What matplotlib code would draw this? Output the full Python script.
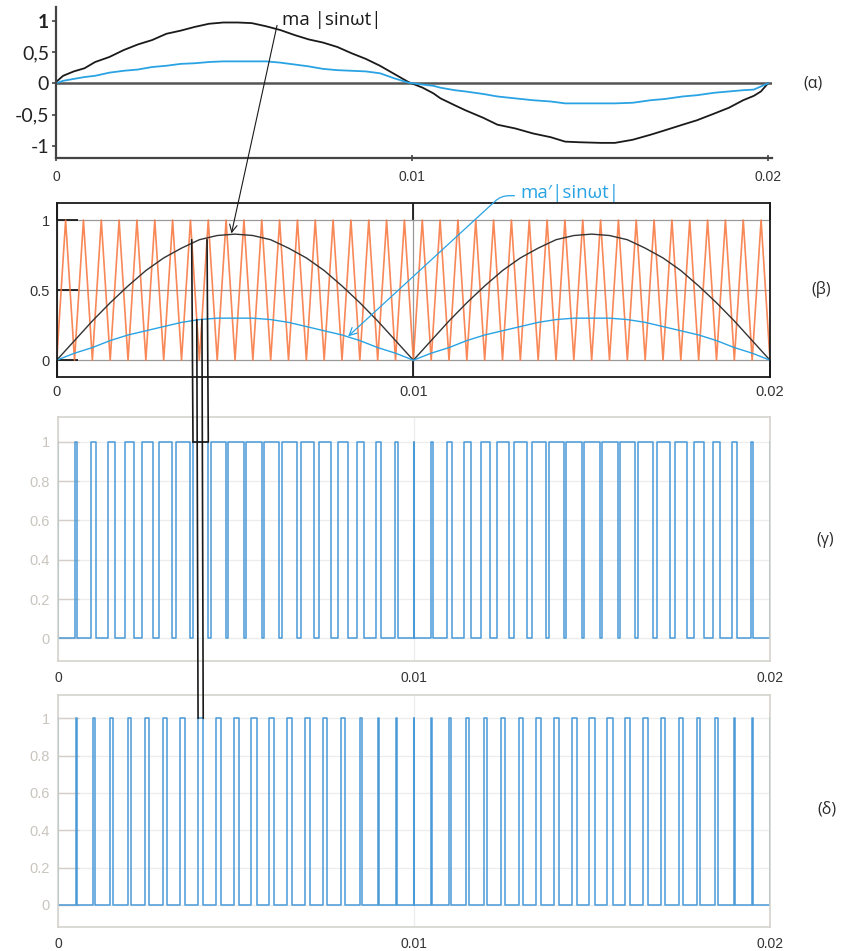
import matplotlib
matplotlib.use('Agg')
import matplotlib.pyplot as plt
import numpy as np
from matplotlib.patches import ConnectionPatch

# ---- (alpha) output voltage, traced points ----
out_t = [0, 0.0002, 0.0005, 0.0008, 0.0011, 0.0015, 0.0019, 0.0023, 0.0027, 0.0031,
         0.0035, 0.0039, 0.0043, 0.0047, 0.0051, 0.0055, 0.0059, 0.0063, 0.0067, 0.0071,
         0.0075, 0.0079, 0.0083, 0.0087, 0.0091, 0.0095, 0.0099,
         0.0103, 0.0106, 0.0108, 0.0112, 0.0115, 0.0120, 0.0124, 0.0129, 0.0134, 0.0139,
         0.0143, 0.0147, 0.0153, 0.0157, 0.0162, 0.0167, 0.0171, 0.0176, 0.0180, 0.0185,
         0.0189, 0.0193, 0.0196, 0.0198, 0.0200]
out_black = [0.02, 0.12, 0.19, 0.24, 0.34, 0.42, 0.53, 0.62, 0.69, 0.79,
             0.84, 0.90, 0.95, 0.97, 0.97, 0.96, 0.91, 0.85, 0.77, 0.70,
             0.65, 0.58, 0.48, 0.39, 0.28, 0.15, 0.02,
             -0.07, -0.16, -0.24, -0.35, -0.43, -0.55, -0.66, -0.72, -0.80, -0.86,
             -0.93, -0.94, -0.95, -0.95, -0.90, -0.82, -0.75, -0.66, -0.59, -0.48,
             -0.39, -0.27, -0.20, -0.13, 0.0]
out_blue = [0.0, 0.04, 0.07, 0.10, 0.12, 0.17, 0.20, 0.22, 0.26, 0.28,
            0.31, 0.32, 0.34, 0.35, 0.35, 0.35, 0.35, 0.33, 0.30, 0.27,
            0.23, 0.21, 0.20, 0.19, 0.16, 0.08, 0.01,
            -0.02, -0.04, -0.07, -0.11, -0.13, -0.17, -0.21, -0.24, -0.27, -0.29,
            -0.32, -0.32, -0.32, -0.32, -0.31, -0.27, -0.25, -0.21, -0.19, -0.15,
            -0.13, -0.11, -0.10, -0.05, 0.0]

# ---- (beta) references read at the carrier valleys, 0 .. 0.01 ----
arch_ma = [0, 0.14, 0.28, 0.41, 0.53, 0.64, 0.73, 0.80, 0.86, 0.89, 0.90,
           0.89, 0.86, 0.80, 0.73, 0.64, 0.53, 0.41, 0.28, 0.14, 0]
arch_ma2 = [0, 0.05, 0.09, 0.14, 0.18, 0.21, 0.24, 0.27, 0.29, 0.30, 0.30,
            0.30, 0.29, 0.27, 0.24, 0.21, 0.18, 0.14, 0.09, 0.05, 0]
ref_ma = arch_ma + arch_ma[1:]      # ma |sinwt| over 0..0.02
ref_ma2 = arch_ma2 + arch_ma2[1:]   # ma'|sinwt| over 0..0.02

Tc = 0.0005          # carrier period (20 teeth per 0.01 s)
T_end = 0.02
valley_t = np.arange(len(ref_ma)) * Tc
carrier_t = np.arange(2 * len(ref_ma) - 1) * Tc / 2
carrier_v = np.tile([0, 1], len(ref_ma))[:len(carrier_t)]

xticks = [0, 0.01, 0.02]
xtick_labels = ['0', '0.01', '0.02']


def pulse_train(ref):
    # high while carrier < reference, i.e. centred on each carrier valley
    xs, ys = [0.0], [0.0]
    for tk, d in zip(valley_t, ref):
        a = max(tk - d * Tc / 2, 0.0)
        b = min(tk + d * Tc / 2, T_end)
        xs += [a, a, b, b]
        ys += [0, 1, 1, 0]
    return xs, ys


def edges(ref, k):
    return valley_t[k] - ref[k] * Tc / 2, valley_t[k] + ref[k] * Tc / 2


W, H = 846, 951
fig = plt.figure(figsize=(W / 100, H / 100), dpi=100)


def box(l, t, r, b):
    return [l / W, 1 - b / H, (r - l) / W, (b - t) / H]


blk = '#1a1a1a'
sky = '#29a3e3'
orange = '#f7733a'
pwm_blue = '#4a9ad8'
txt_font = ['Open Sans', 'DejaVu Sans']

# ---------------- (alpha) ----------------
ax_a = fig.add_axes(box(56, 6.7, 771.6, 158.3))
ax_a.plot(out_t, out_black, color=blk, lw=1.3)
ax_a.plot(out_t, out_blue, color=sky, lw=1.3)
ax_a.axhline(0, xmin=0, xmax=1, color='#555555', lw=1.8, zorder=1)
ax_a.set_xlim(0, 0.0201)
ax_a.set_ylim(-1.196, 1.222)
for s in ['top', 'right']:
    ax_a.spines[s].set_visible(False)
for s in ['left', 'bottom']:
    ax_a.spines[s].set_color('#444444')
    ax_a.spines[s].set_linewidth(1.6)
ax_a.set_yticks([-1, -0.5, 0, 0.5, 1])
ax_a.set_yticklabels(['-1', '-0,5', '0', '0,5', '1'], family='Lato', fontsize=14,
                     color='#222222')
ax_a.get_yticklabels()[-1].set_fontweight('bold')
ax_a.set_xticks(xticks)
ax_a.set_xticklabels(xtick_labels, family='Liberation Sans', fontsize=10, color='#333333')
ax_a.tick_params(axis='y', direction='out', length=3, width=1.2, color='#444444', pad=2)
ax_a.tick_params(axis='x', direction='inout', length=5, width=1.2, color='#444444', pad=6)

# ---------------- (beta) ----------------
ax_b = fig.add_axes(box(56.7, 203.3, 770, 377))
ax_b.plot(carrier_t, carrier_v, color=orange, lw=1.2, alpha=0.85)
ax_b.plot(valley_t, ref_ma, color='#333333', lw=1.0)
ax_b.plot(valley_t, ref_ma2, color=sky, lw=1.0)
ax_b.set_xlim(0, T_end)
ax_b.set_ylim(-0.12, 1.12)
ax_b.set_yticks([0, 0.5, 1])
ax_b.set_yticklabels(['0', '0.5', '1'], family='Liberation Sans', fontsize=10.5,
                     color='#333333')
ax_b.set_xticks(xticks)
ax_b.set_xticklabels(xtick_labels, family='Liberation Sans', fontsize=10.5, color='#333333')
ax_b.grid(True, color='#9a9a9a', lw=0.9)
ax_b.set_axisbelow(True)
ax_b.tick_params(axis='y', direction='in', length=15, width=1.3, color=blk, pad=5)
ax_b.tick_params(axis='x', direction='in', length=12, width=1.3, color=blk, pad=6,
                 top=True)
for s in ax_b.spines.values():
    s.set_color(blk)
    s.set_linewidth(1.3)

ax_b.annotate('ma |sinωt|', xy=(0.0049, 0.905), xycoords=ax_b.transData,
              xytext=(282 / W, 1 - 20 / H), textcoords='figure fraction',
              family=txt_font, fontsize=13.5, color=blk, ha='left', va='center',
              arrowprops=dict(arrowstyle='->', color=blk, lw=0.8,
                              shrinkA=0, shrinkB=0,
                              relpos=(-0.05, 0.2)))
ax_b.annotate('ma\u2032|sinωt|', xy=(0.00817, 0.17), xycoords=ax_b.transData,
              xytext=(520 / W, 1 - 193 / H), textcoords='figure fraction',
              family=txt_font, fontsize=13.5, color=sky, ha='left', va='center',
              arrowprops=dict(arrowstyle='->', color=sky, lw=0.9,
                              shrinkA=2, shrinkB=0,
                              connectionstyle='angle,angleA=180,angleB=42.6,rad=8',
                              relpos=(0, 0.35)))

# ---------------- (gamma) and (delta) ----------------
def pwm_axes(rect, ref, ylim):
    ax = fig.add_axes(rect)
    xs, ys = pulse_train(ref)
    ax.plot(xs, ys, color=pwm_blue, lw=1.1)
    ax.set_xlim(0, T_end)
    ax.set_ylim(*ylim)
    ax.set_yticks([0, 0.2, 0.4, 0.6, 0.8, 1])
    ax.set_yticklabels(['0', '0.2', '0.4', '0.6', '0.8', '1'], family='Liberation Sans',
                       fontsize=10.5, color='#c9c5be')
    ax.set_xticks(xticks)
    ax.set_xticklabels(xtick_labels, family='Liberation Sans', fontsize=10,
                       color='#333333')
    ax.grid(True, color='#ececec', lw=0.9)
    ax.set_axisbelow(True)
    ax.tick_params(axis='y', direction='in', length=15, width=1.0, color='#d4d0c9', pad=6)
    ax.tick_params(axis='x', direction='in', length=0, pad=7)
    for s in ax.spines.values():
        s.set_color('#d6d3cd')
        s.set_linewidth(1.2)
    return ax


ax_g = pwm_axes(box(58.3, 416.7, 770, 661), ref_ma, (-0.115, 1.127))
ax_d = pwm_axes(box(58.3, 695, 770, 927.3), ref_ma2, (-0.12, 1.125))

# guide lines carried down from the pulse at t = 0.004
k = 8
for t_e in edges(ref_ma, k):
    fig.add_artist(ConnectionPatch(xyA=(t_e, ref_ma[k]), coordsA=ax_b.transData,
                                   xyB=(t_e, 1), coordsB=ax_g.transData,
                                   color=blk, lw=1.2, zorder=10))
for t_e in edges(ref_ma2, k):
    fig.add_artist(ConnectionPatch(xyA=(t_e, ref_ma2[k]), coordsA=ax_b.transData,
                                   xyB=(t_e, 1), coordsB=ax_d.transData,
                                   color=blk, lw=1.2, zorder=10))
g0, g1 = edges(ref_ma, k)
ax_g.plot([g0, g1], [1, 1], color=blk, lw=1.2, zorder=5, clip_on=False)

# panel tags
for x, y, tag in [(813, 83, '(α)'), (821, 290, '(β)'), (825, 540, '(γ)'),
                  (827, 810, '(δ)')]:
    fig.text(x / W, 1 - y / H, tag, family=txt_font, fontsize=11.5,
             color='#2b2b2b', ha='center', va='center')

fig.savefig('out.png', dpi=100)
